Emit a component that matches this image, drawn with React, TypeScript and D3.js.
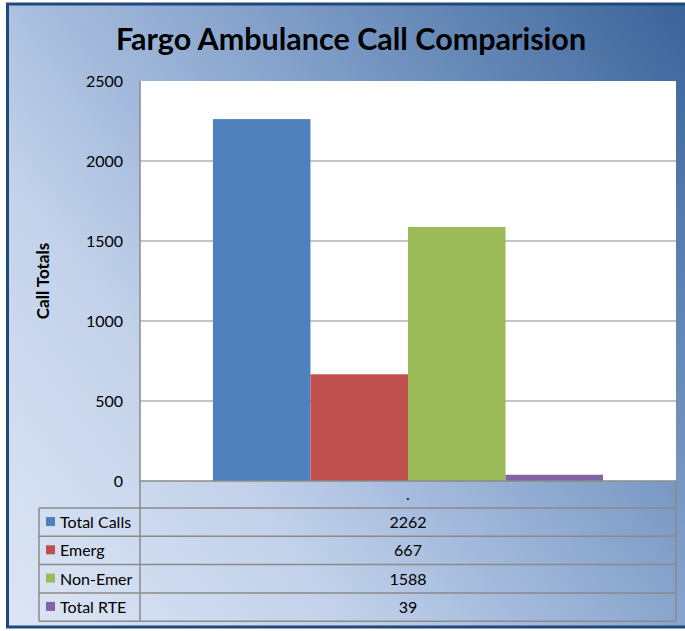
import React from "react";
import * as d3 from "d3";

const categories = ["."];
const seriesNames = ["Total Calls", "Emerg", "Non-Emer", "Total RTE"];
const seriesValues = [2262, 667, 1588, 39];
const seriesColors = ["#4f81bd", "#c0504d", "#9bbb59", "#8064a2"];
const yTicks = [0, 500, 1000, 1500, 2000, 2500];
const title = "Fargo Ambulance Call Comparision";
const yTitle = "Call Totals";

export default function App() {
  const W = 685, H = 631;
  const plotL = 140, plotR = 676, plotT = 81, plotB = 481;
  const y = d3.scaleLinear().domain([0, 2500]).range([plotB, plotT]);
  const x0 = d3.scaleBand<string>().domain(categories).range([plotL, plotR]).paddingInner(0).paddingOuter(0.187);
  const x1 = d3.scaleBand<string>().domain(seriesNames).range([0, x0.bandwidth()]).padding(0);
  const tableL = 39;
  const headerH = 27;
  const rowH = 28.3;
  const rowsTop = plotB + headerH;
  const rowsBottom = rowsTop + rowH * seriesNames.length;
  const valueX = (plotL + plotR) / 2;
  const font = "Lato, 'Open Sans', sans-serif";
  const grid = "#8a8a8a";

  return (
    <div>
      <style>{`body{margin:0}`}</style>
      <svg width={W} height={H} style={{ display: "block" }}>
        <defs>
          <linearGradient id="bg" gradientUnits="userSpaceOnUse" x1="0" y1="631" x2="740" y2="72">
            <stop offset="0" stopColor="#dde6f5" />
            <stop offset="0.3" stopColor="#c3d2ea" />
            <stop offset="0.45" stopColor="#a5bbdd" />
            <stop offset="0.65" stopColor="#7d9cc6" />
            <stop offset="1" stopColor="#3a6399" />
          </linearGradient>
        </defs>
        <rect x={7.5} y={4} width={W} height={623} fill="url(#bg)" stroke="#1f497d" strokeWidth={3} />
        <text x={351} y={50} textAnchor="middle" fontFamily={font} fontWeight="bold" fontSize={30.5} fill="#000">
          {title}
        </text>
        <rect x={plotL} y={plotT} width={plotR - plotL} height={plotB - plotT} fill="#ffffff" />
        {yTicks.map((t) => (
          <g key={t}>
            {t > 0 && t < 2500 && (
              <line x1={plotL} x2={plotR} y1={y(t)} y2={y(t)} stroke={grid} strokeWidth={1} />
            )}
            <text x={123} y={y(t) + 6} textAnchor="end" fontFamily={font} fontSize={16} fill="#000">
              {t}
            </text>
          </g>
        ))}
        <text
          transform={`translate(49,${(plotT + plotB) / 2}) rotate(-90)`}
          textAnchor="middle"
          fontFamily={font}
          fontWeight="bold"
          fontSize={17}
          fill="#000"
        >
          {yTitle}
        </text>
        {categories.map((c) => (
          <g key={c} transform={`translate(${x0(c)},0)`}>
            {seriesNames.map((s, i) => (
              <rect
                key={s}
                x={x1(s)}
                y={y(seriesValues[i])}
                width={x1.bandwidth()}
                height={plotB - y(seriesValues[i])}
                fill={seriesColors[i]}
              />
            ))}
          </g>
        ))}
        <line x1={plotL} x2={plotL} y1={plotT} y2={rowsBottom} stroke={grid} strokeWidth={1.5} />
        <line x1={plotL} x2={plotR} y1={plotB} y2={plotB} stroke={grid} strokeWidth={1.5} />
        <line x1={plotR} x2={plotR} y1={plotB} y2={rowsBottom} stroke={grid} strokeWidth={1.5} />
        <line x1={tableL} x2={tableL} y1={rowsTop} y2={rowsBottom} stroke={grid} strokeWidth={1.5} />
        {categories.map((c) => (
          <text key={c} x={valueX} y={plotB + 19} textAnchor="middle" fontFamily={font} fontSize={16} fill="#000">
            {c}
          </text>
        ))}
        {seriesNames.map((s, i) => {
          const top = rowsTop + i * rowH;
          return (
            <g key={s}>
              <line x1={tableL} x2={plotR} y1={top} y2={top} stroke={grid} strokeWidth={1.5} />
              <rect x={46} y={top + 9} width={9} height={9} fill={seriesColors[i]} />
              <text x={60} y={top + 20} fontFamily={font} fontSize={16} fill="#000">
                {s}
              </text>
              <text x={valueX} y={top + 20} textAnchor="middle" fontFamily={font} fontSize={16} fill="#000">
                {seriesValues[i]}
              </text>
            </g>
          );
        })}
        <line x1={tableL} x2={plotR} y1={rowsBottom} y2={rowsBottom} stroke={grid} strokeWidth={1.5} />
      </svg>
    </div>
  );
}
